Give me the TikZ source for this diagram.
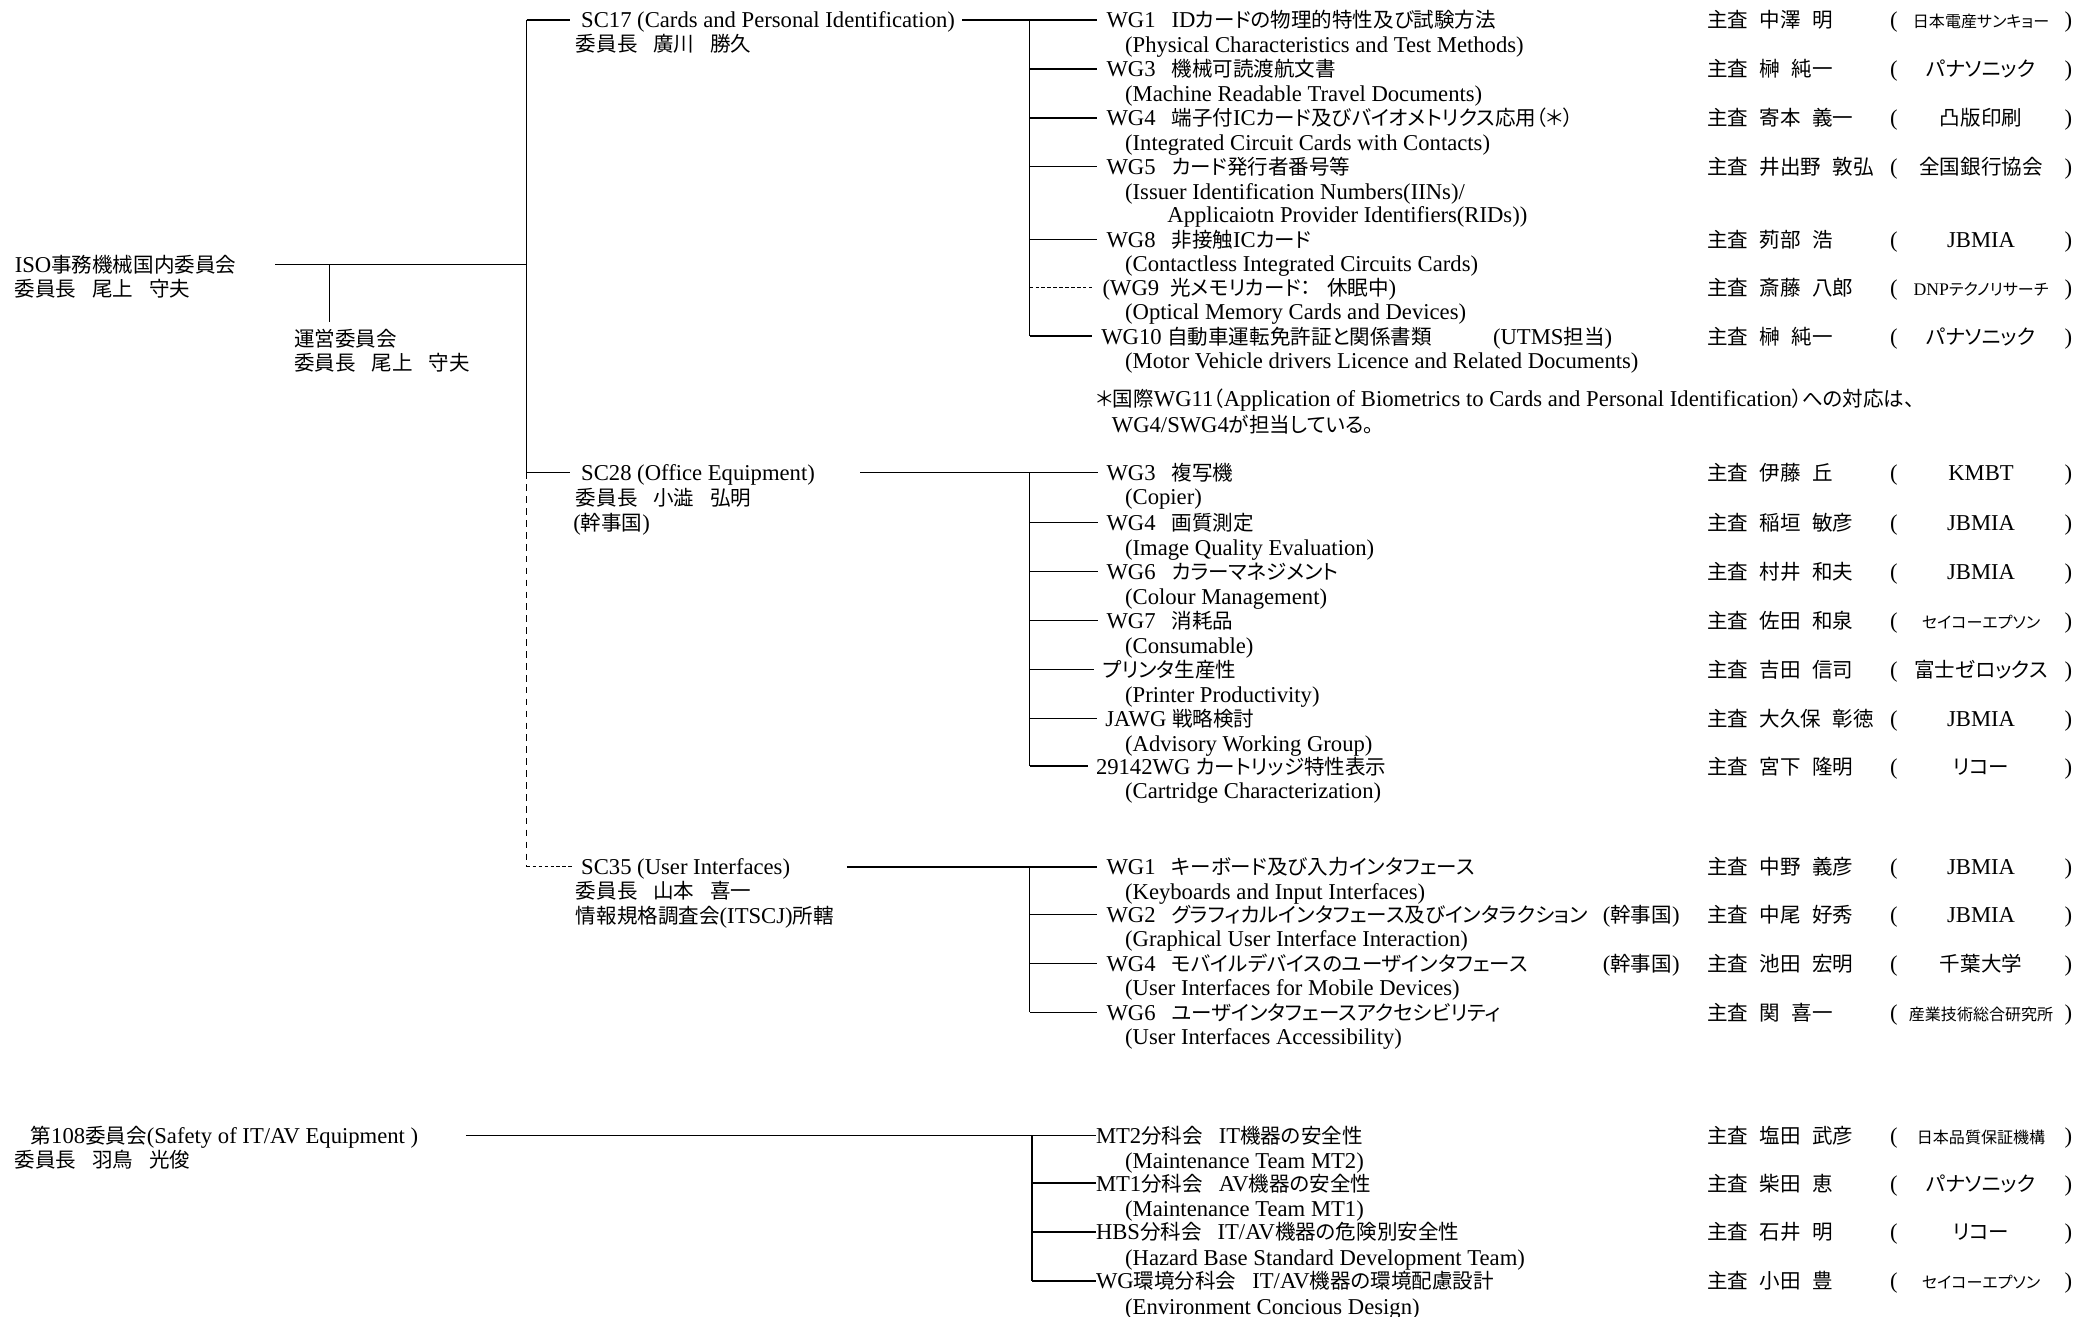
\documentclass[tikz,border=0pt]{standalone}
\usepackage{fontspec}
\setmainfont[Scale=1.07]{Liberation Serif}
\newfontfamily\jpfont[RawFeature=+palt, Scale=0.97]{Noto Sans CJK JP}
\usetikzlibrary{calc}

% Japanese characters switch to the CJK family by themselves
\newXeTeXintercharclass\jpclass
\newcount\jpcode
\jpcode="3000
\loop
  \XeTeXcharclass\jpcode=\jpclass
  \advance\jpcode by 1
\ifnum\jpcode<"A000 \repeat
\jpcode="FF00
\loop
  \XeTeXcharclass\jpcode=\jpclass
  \advance\jpcode by 1
\ifnum\jpcode<"FFF0 \repeat
\XeTeXinterchartoks 0 \jpclass = {\jpfont}
\XeTeXinterchartoks 4095 \jpclass = {\jpfont}
\XeTeXinterchartoks \jpclass 0 = {\rmfamily}
\XeTeXinterchartoks \jpclass 4095 = {\rmfamily}
\XeTeXinterchartokenstate=1

\newcommand\orgsmall{\fontsize{12.5}{14}\selectfont}
\newcommand\gap{\hspace{12pt}}

\begin{document}
\begin{tikzpicture}[
    x=1pt, y=-1pt,
    font=\fontsize{16}{18}\selectfont,
    every node/.style={anchor=west, inner sep=0pt, text height=14pt, text depth=2pt},
    org/.style={anchor=center},
    % Line styles
    link/.style={line width=1.1pt},
    thinlink/.style={line width=0.7pt},
    dormant/.style={line width=1pt, dash pattern=on 5pt off 4pt},
    dotlink/.style={line width=1pt, dash pattern=on 2.5pt off 2pt},
]
    \useasboundingbox (0,0) rectangle (1568,995);

    % Top committees
    \node (iso) at (11,200) {ISO事務機械国内委員会};
    \node (isoc) at (11,218) {委員長\gap 尾上\gap 守夫};
    \node (unei) at (222,256) {運営委員会};
    \node (ueic) at (222,274) {委員長\gap 尾上\gap 守夫};

    % Subcommittees
    \node (sc17) at (439,15) {SC17 (Cards and Personal Identification)};
    \node (sc17c) at (435,33) {委員長\gap 廣川\gap 勝久};
    \node (sc28) at (439,357) {SC28 (Office Equipment)};
    \node (sc28c) at (435,376) {委員長\gap 小澁\gap 弘明};
    \node (sc28k) at (433,395) {(幹事国)};
    \node (sc35) at (439,655) {SC35 (User Interfaces)};
    \node (sc35c) at (435,673) {委員長\gap 山本\gap 喜一};
    \node (sc35k) at (435,692) {情報規格調査会(ITSCJ)所轄};
    \node (c108) at (23,858) {第108委員会(Safety of IT/AV Equipment )};
    \node (c108c) at (11,876) {委員長\gap 羽鳥\gap 光俊};

    % Trunk
    \coordinate (isoR) at (208,200);
    \coordinate (top) at (398,15);
    \coordinate (mid) at (398,200);
    \coordinate (t28l) at (398,357);
    \coordinate (bot) at (398,655);
    \coordinate (ueiT) at (249,243);
    \draw[link] (isoR) -- (mid);
    \draw[thinlink] (ueiT |- mid) -- (ueiT);
    \draw[link] (top) -- (t28l);
    \draw[dormant] (t28l) -- (bot);
    \draw[dotlink] (bot) -- ([xshift=-7pt]sc35.west);
    \draw[link] (top) -- ([xshift=-8pt]sc17.west);
    \draw[link] (t28l) -- ([xshift=-8pt]sc28.west);

    % SC17 working groups
    \foreach \n/\y/\x/\jp/\en/\chair/\org/\s in {
        1/15/836/{WG1\gap IDカードの物理的特性及び試験方法}/{(Physical Characteristics and Test Methods)}/{中澤\enspace 明}/{\orgsmall 日本電産サンキョー}/link,
        2/52/836/{WG3\gap 機械可読渡航文書}/{(Machine Readable Travel Documents)}/{榊\enspace 純一}/{パナソニック}/link,
        3/89/836/{WG4\gap 端子付ICカード及びバイオメトリクス応用（＊）}/{(Integrated Circuit Cards with Contacts)}/{寄本\enspace 義一}/{凸版印刷}/link,
        4/126/836/{WG5\gap カード発行者番号等}/{(Issuer Identification Numbers(IINs)/}/{井出野\enspace 敦弘}/{全国銀行協会}/link,
        5/181/836/{WG8\gap 非接触ICカード}/{(Contactless Integrated Circuits Cards)}/{茢部\enspace 浩}/{JBMIA}/link,
        6/217/833/{(WG9\enspace 光メモリカード：\gap 休眠中)}/{(Optical Memory Cards and Devices)}/{斎藤\enspace 八郎}/{\orgsmall DNPテクノリサーチ}/dotlink,
        7/254/832/{WG10 自動車運転免許証と関係書類}/{(Motor Vehicle drivers Licence and Related Documents)}/{榊\enspace 純一}/{パナソニック}/link} {
        \node (wgA\n) at (\x,\y) {\jp};
        \node (wgA\n-en) at (850,\y+18.5) {\en};
        \node (chA\n) at (1290,\y) {主査\enspace\chair};
        \node (opA\n) at (1428,\y) {(};
        \node[org] (orgA\n) at (1497,\y) {\org};
        \node (cpA\n) at (1560,\y) {)};
        \coordinate (t17) at (778,15);
        \draw[\s] (t17 |- wgA\n) -- ([xshift=-7pt]wgA\n.west);
    }
    \node (wgA4-en2) at (882,162) {Applicaiotn Provider Identifiers(RIDs))};
    \node (utms) at (1128,254) {(UTMS担当)};
    \node (note1) at (828,301) {＊国際WG11（Application of Biometrics to Cards and Personal Identification）への対応は、};
    \node (note2) at (840,321) {WG4/SWG4が担当している。};

    % SC28 working groups
    \foreach \n/\y/\x/\jp/\en/\chair/\org in {
        1/357/836/{WG3\gap 複写機}/{(Copier)}/{伊藤\enspace 丘}/{KMBT},
        2/395/836/{WG4\gap 画質測定}/{(Image Quality Evaluation)}/{稲垣\enspace 敏彦}/{JBMIA},
        3/432/836/{WG6\gap カラーマネジメント}/{(Colour Management)}/{村井\enspace 和夫}/{JBMIA},
        4/469/836/{WG7\gap 消耗品}/{(Consumable)}/{佐田\enspace 和泉}/{\orgsmall セイコーエプソン},
        5/506/833/{プリンタ生産性}/{(Printer Productivity)}/{吉田\enspace 信司}/{富士ゼロックス},
        6/543/835/{JAWG 戦略検討}/{(Advisory Working Group)}/{大久保\enspace 彰徳}/{JBMIA},
        7/579/828/{29142WG カートリッジ特性表示}/{(Cartridge Characterization)}/{宮下\enspace 隆明}/{リコー}} {
        \node (wgB\n) at (\x,\y) {\jp};
        \node (wgB\n-en) at (850,\y+18.5) {\en};
        \node (chB\n) at (1290,\y) {主査\enspace\chair};
        \node (opB\n) at (1428,\y) {(};
        \node[org] (orgB\n) at (1497,\y) {\org};
        \node (cpB\n) at (1560,\y) {)};
        \coordinate (t28) at (778,357);
        \draw[link] (t28 |- wgB\n) -- ([xshift=-6pt]wgB\n.west);
    }

    % SC35 working groups
    \foreach \n/\y/\jp/\en/\chair/\org in {
        1/655/{WG1\gap キーボード及び入力インタフェース}/{(Keyboards and Input Interfaces)}/{中野\enspace 義彦}/{JBMIA},
        2/691/{WG2\gap グラフィカルインタフェース及びインタラクション}/{(Graphical User Interface Interaction)}/{中尾\enspace 好秀}/{JBMIA},
        3/728/{WG4\gap モバイルデバイスのユーザインタフェース}/{(User Interfaces for Mobile Devices)}/{池田\enspace 宏明}/{千葉大学},
        4/765/{WG6\gap ユーザインタフェースアクセシビリティ}/{(User Interfaces Accessibility)}/{関\enspace 喜一}/{\orgsmall 産業技術総合研究所}} {
        \node (wgC\n) at (836,\y) {\jp};
        \node (wgC\n-en) at (850,\y+18.5) {\en};
        \node (chC\n) at (1290,\y) {主査\enspace\chair};
        \node (opC\n) at (1428,\y) {(};
        \node[org] (orgC\n) at (1497,\y) {\org};
        \node (cpC\n) at (1560,\y) {)};
        \coordinate (t35) at (778,655);
        \draw[link] (t35 |- wgC\n) -- ([xshift=-7pt]wgC\n.west);
    }
    \node (kanC2) at (1211,691) {(幹事国)};
    \node (kanC3) at (1211,728) {(幹事国)};

    % Committee 108 teams
    \foreach \n/\y/\jp/\en/\chair/\org in {
        1/858/{MT2分科会\gap IT機器の安全性}/{(Maintenance Team MT2)}/{塩田\enspace 武彦}/{\orgsmall 日本品質保証機構},
        2/894/{MT1分科会\gap AV機器の安全性}/{(Maintenance Team MT1)}/{柴田\enspace 恵}/{パナソニック},
        3/931/{HBS分科会\gap IT/AV機器の危険別安全性}/{(Hazard Base Standard Development Team)}/{石井\enspace 明}/{リコー},
        4/968/{WG環境分科会\gap IT/AV機器の環境配慮設計}/{(Environment Concious Design)}/{小田\enspace 豊}/{\orgsmall セイコーエプソン}} {
        \node (wgD\n) at (828,\y) {\jp};
        \node (wgD\n-en) at (850,\y+19) {\en};
        \node (chD\n) at (1290,\y) {主査\enspace\chair};
        \node (opD\n) at (1428,\y) {(};
        \node[org] (orgD\n) at (1497,\y) {\org};
        \node (cpD\n) at (1560,\y) {)};
        \coordinate (t108) at (780,858);
        \draw[link] (t108 |- wgD\n) -- (wgD\n.west);
    }

    % Feeds into the working group trunks
    \coordinate (s17) at (727,15);
    \coordinate (s28) at (650,357);
    \coordinate (s35) at (640,655);
    \coordinate (s108) at (352,858);
    \draw[link] (s17) -- (t17) -- (t17 |- wgA7);
    \draw[link] (s28) -- (t28) -- (t28 |- wgB7);
    \draw[link] (s35) -- (t35) -- (t35 |- wgC4);
    \draw[link] (s108) -- (t108) -- (t108 |- wgD4);

\end{tikzpicture}
\end{document}
